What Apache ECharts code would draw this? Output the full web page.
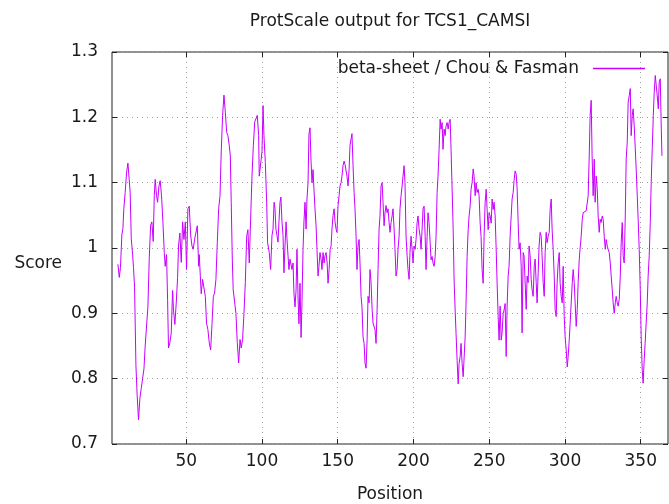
<!DOCTYPE html>
<html>
<head>
<meta charset="utf-8">
<title>ProtScale output for TCS1_CAMSI</title>
<script src="https://cdn.jsdelivr.net/npm/echarts@6/dist/echarts.min.js"></script>
<style>
  html, body { margin: 0; padding: 0; background: #fff; }
  #chart { width: 669px; height: 504px; }
</style>
</head>
<body>
<div id="chart"></div>
<script>
// positions / scores, in pieces from left to right
var posA = [4.9,5.8,6.6,7.5,8.2,8.8,9.7,10.6,11.5,12.4,13.0,13.7,14.6,15.2,15.9,16.8,17.6,18.5,19.4,20.3,21.2,22.1,22.9,23.8,24.7,25.6,26.5,27.3,28.2,28.9,29.5,30.4,31.1,32.0,32.8,33.7,34.6,35.5,36.1,37.0,37.7,38.3,39.2,40.1,41.0,41.6,42.5,43.4,44.3,44.9,45.8,46.7,47.6,48.5,49.4,50.2,51.1,52.0];
var scoreA = [0.975,0.955,0.97,1.02,1.03,1.06,1.085,1.115,1.13,1.133,1.085,1.015,0.99,0.97,0.94,0.82,0.775,0.737,0.77,0.785,0.80,0.815,0.85,0.85,0.91,0.985,1.035,1.04,1.01,1.08,1.105,1.08,1.07,1.095,1.103,1.08,1.04,0.993,0.972,0.99,0.92,0.847,0.855,0.87,0.935,0.905,0.883,0.916,0.955,1.003,1.023,0.978,1.04,1.013,1.04,0.967,1.06,1.064];

var posB = [52.9,53.8,54.6,55.5,56.4,57.3,58.2,58.6,59.3,59.9,60.8,61.7,62.6,63.4,64.3,65.2,66.1,67.0,67.9,68.7,69.6,70.5,71.4,72.3,73.1,74.0,74.9,75.8,76.7,77.5,78.4,79.1,79.7,80.4,81.0,81.9,82.8,83.7,84.6,85.5,86.3,87.2,88.1,89.0,89.9,90.7,91.6,92.5,93.4,94.3,95.2,96.0,96.9,97.8,98.2,99.1,100.0,100.7,101.3,102.2,103.1,103.7];
var scoreB = [1.02,1.003,0.998,1.013,1.01,1.034,0.972,0.99,0.957,0.93,0.952,0.952,0.926,0.885,0.875,0.855,0.844,0.883,0.926,0.931,0.952,1.008,1.06,1.08,1.147,1.203,1.234,1.208,1.177,1.172,1.157,1.141,1.07,0.983,0.936,0.936,0.90,0.855,0.824,0.86,0.847,0.86,0.90,0.947,1.018,1.028,0.977,1.044,1.11,1.157,1.193,1.195,1.203,1.172,1.11,1.11,1.147,1.218,1.172,1.131,1.07,1.008];

var posC = [104.8,105.7,106.6,107.3,108.0,108.6,109.2,109.9,110.6,111.2,111.9,112.5,113.2,113.9,114.5,115.2,115.9,116.5,117.2,117.8,118.5,119.2,119.8,120.5,121.1,121.8,122.5,123.1,123.8,124.4,125.1,125.8,126.4,127.1,127.7,128.4,129.1,129.7,130.4,131.0,131.7,132.4,133.0,133.7,134.3,135.0,135.7,136.3,137.0,137.6,138.3,139.0,139.6,140.3,141.0,141.6,142.3,143.0,143.6,144.3,145.0,145.6,146.2,146.9,147.6,148.2,148.9,149.5,150.2,150.9,151.5,152.2,152.8,153.5,154.2,154.8];
var scoreC = [0.993,0.967,1.019,1.029,1.07,1.06,1.029,1.019,1.009,1.04,1.07,1.078,1.04,1.019,0.962,1.003,1.04,1.014,0.988,0.967,0.983,0.983,0.967,0.977,0.931,0.91,0.936,0.998,0.925,0.884,0.946,0.863,0.916,0.998,1.04,1.07,1.029,1.075,1.10,1.174,1.184,1.132,1.10,1.12,1.09,1.06,1.034,0.998,0.957,0.972,0.993,0.983,0.967,0.993,0.977,0.988,0.993,0.977,0.946,0.967,0.998,1.003,1.029,1.05,1.06,1.04,1.029,1.024,1.065,1.08,1.095,1.10,1.11,1.126,1.133,1.128];

var posD = [155.5,156.1,156.8,157.5,158.1,158.8,159.4,160.1,160.8,161.4,162.1,162.7,163.4,164.1,164.7,165.4,166.0,166.7,167.4,168.0,168.7,169.4,170.0,170.7,171.3,172.0,172.7,173.3,174.0,174.6,175.3,176.0,176.6,177.3,177.9,178.6,179.3,179.9,180.6,181.2,181.9,182.6,183.2,183.9,184.5,185.2,185.9,186.5,187.2,187.8,188.5,189.2,189.8,190.5,191.1,191.8,192.5,193.1,193.8,194.4,195.1,195.8,196.4,197.1,197.7,198.4,199.1,199.7,200.4,201.1,201.7,202.4,203.0,203.7,204.4,205.0,205.7,206.3];
var scoreD = [1.13,1.11,1.095,1.12,1.157,1.167,1.175,1.126,1.085,1.06,1.018,0.967,1.003,1.013,0.977,0.926,0.91,0.864,0.854,0.824,0.816,0.86,0.926,0.916,0.967,0.947,0.906,0.885,0.885,0.875,0.854,0.906,0.967,1.029,1.049,1.095,1.10,1.07,1.034,1.054,1.065,1.054,1.06,1.039,1.024,1.039,1.049,1.06,1.029,0.998,0.957,0.967,0.998,1.018,1.06,1.08,1.095,1.11,1.126,1.10,1.018,0.988,0.967,0.952,0.993,1.018,0.998,0.977,1.003,0.998,1.013,1.039,1.049,1.029,1.018,0.998,1.029,1.06];

var posE = [207.0,207.7,208.3,209.0,209.6,210.3,211.0,211.6,212.3,212.9,213.6,214.3,214.9,215.6,216.2,216.9,217.6,218.2,218.9,219.5,220.2,220.9,221.5,222.2,222.9,223.5,224.2,224.8,225.5,226.2,226.8,227.5,228.1,228.8,229.5,230.1,230.8,231.4,232.1,232.8,233.4,234.1,234.7,235.4,236.1,236.7,237.4,238.0,238.7,239.4,240.0,240.7,241.3,242.0,242.7,243.3,244.0,244.6,245.3,246.0,246.6,247.3,248.0,248.6,249.3,249.9,250.6,251.3,251.9,252.6,253.2,253.9,254.6,255.2,255.9,256.5,257.2,257.9];
var scoreE = [1.064,1.018,0.967,1.018,1.054,1.038,1.008,0.982,0.987,0.977,0.972,0.987,1.018,1.085,1.11,1.151,1.197,1.182,1.192,1.151,1.182,1.172,1.187,1.192,1.182,1.192,1.197,1.151,1.09,1.028,0.951,0.905,0.869,0.828,0.792,0.823,0.834,0.854,0.823,0.803,0.803,0.864,0.916,0.987,1.028,1.049,1.064,1.09,1.10,1.121,1.11,1.08,1.10,1.085,1.09,1.08,1.038,1.018,0.967,0.946,1.018,1.07,1.09,1.059,1.028,1.054,1.049,1.038,1.075,1.059,1.07,1.049,0.997,0.946,0.895,0.859,0.911,0.859];

var posF = [258.5,259.2,259.8,260.5,261.2,261.8,262.5,263.1,263.8,264.5,265.1,265.8,266.4,267.1,267.8,268.4,269.1,269.7,270.4,271.1,271.7,272.4,273.0,273.7,274.4,275.0,275.7,276.3,277.0,277.7,278.3,279.0,279.7,280.3,281.0,281.6,282.3,282.9,283.6,284.3,284.9,285.6,286.3,286.9,287.6,288.2,288.9,289.6,290.2,290.9,291.5,292.2,292.9,293.5,294.2,294.8,295.5,296.2,296.8,297.5,298.2,298.8,299.5,300.1,300.8,301.5,302.1,302.8,303.4,304.1,304.8,305.4,306.1,306.7,307.4,308.1,308.7,309.4];
var scoreF = [0.87,0.90,0.905,0.915,0.834,0.911,0.957,0.972,1.018,1.049,1.075,1.085,1.103,1.118,1.113,1.092,1.039,0.998,1.008,0.972,0.87,0.993,0.988,0.988,0.906,0.957,0.947,1.003,0.988,0.952,0.936,0.926,0.972,0.983,0.947,0.916,0.962,1.003,1.024,1.018,0.988,0.947,0.926,0.993,1.024,1.008,1.018,1.024,1.059,1.075,1.029,0.998,0.957,0.906,0.895,0.947,0.977,0.993,0.947,0.926,0.916,0.972,0.895,0.864,0.844,0.818,0.834,0.859,0.885,0.916,0.947,0.967,0.947,0.916,0.88,0.906,0.947,0.982];

var posG = [310.0,310.7,311.4,312.0,312.7,313.3,314.0,314.7,315.3,316.0,316.6,317.3,317.9,318.6,319.3,319.9,320.6,321.3,321.9,322.6,323.2,323.9,324.6,325.2,325.9,326.6,327.2,327.9,328.5,329.2,329.9,330.5,331.2,331.8,332.5,333.2,333.8,334.5,335.1,335.8,336.5,337.1,337.8,338.4,339.1,339.8,340.4,341.1,341.7,342.4,343.1,343.7,344.4,345.0,345.7,346.4,347.0,347.7,348.3,349.0,349.7,350.3,351.0,351.6,352.3,352.9,353.6,354.3,354.9,355.6,356.3,356.9,357.6,358.3,358.9,359.6,360.2,360.9,361.6,362.2,362.9,363.5,364.0];
var scoreG = [1.0,1.018,1.044,1.054,1.057,1.057,1.057,1.059,1.08,1.141,1.203,1.226,1.141,1.08,1.136,1.07,1.11,1.09,1.049,1.024,1.044,1.039,1.049,1.044,1.018,0.998,1.013,1.003,0.998,0.993,0.977,0.957,0.936,0.916,0.90,0.916,0.926,0.916,0.911,0.921,0.957,1.008,1.039,0.988,0.977,1.049,1.136,1.162,1.223,1.233,1.244,1.172,1.203,1.213,1.187,1.152,1.121,1.08,1.044,0.998,0.936,0.864,0.813,0.793,0.829,0.854,0.885,0.916,0.957,0.988,1.039,1.10,1.152,1.203,1.238,1.264,1.267,1.233,1.213,1.254,1.259,1.19,1.141];

var xTicks = [50, 100, 150, 200, 250, 300, 350];
var seriesName = 'beta-sheet / Chou & Fasman';

var allPos = [posA, posB, posC, posD, posE, posF, posG];
var allScore = [scoreA, scoreB, scoreC, scoreD, scoreE, scoreF, scoreG];
var lineData = [];
for (var s = 0; s < allPos.length; s++) {
	var n = Math.min(allPos[s].length, allScore[s].length);
	for (var i = 0; i < n; i++) {
		lineData.push([allPos[s][i], allScore[s][i]]);
	}
}

var FONT = 'DejaVu Sans';
var FS = 17;
var TXT = '#1a1a1a';
var LINE = '#c800ff';

var myChart = echarts.init(document.getElementById('chart'), null, {renderer: 'canvas'});

var gridDots = {show: true, lineStyle: {color: '#a0a0a0', width: 1, type: [1, 4]}};

var option = {
	animation: false,
	backgroundColor: '#fff',
	textStyle: {fontFamily: FONT},
	title: {
		text: 'ProtScale output for TCS1_CAMSI',
		left: 390,
		top: 13,
		textAlign: 'center',
		padding: 0,
		textStyle: {color: TXT, fontFamily: FONT, fontSize: FS, fontWeight: 'normal'}
	},
	legend: {
		data: [seriesName],
		right: 24,
		top: 60,
		padding: 0,
		align: 'right',
		icon: 'rect',
		itemWidth: 52,
		itemHeight: 1.5,
		itemStyle: {color: LINE},
		textStyle: {color: TXT, fontFamily: FONT, fontSize: FS, padding: [0, 9, 0, 0]}
	},
	grid: {
		left: 112,
		right: 1,
		top: 52,
		bottom: 60,
		outerBoundsMode: 'none',
		containLabel: false,
		show: true,
		borderColor: '#222',
		borderWidth: 1,
		backgroundColor: 'transparent'
	},
	xAxis: [{
		type: 'value',
		min: 1,
		max: 368,
		name: 'Position',
		nameLocation: 'middle',
		nameGap: 42,
		nameTextStyle: {color: TXT, fontFamily: FONT, fontSize: FS},
		axisLine: {show: false},
		axisTick: {show: true, inside: true, length: 5, customValues: xTicks, lineStyle: {color: '#222'}},
		axisLabel: {show: true, margin: 9, customValues: xTicks, color: TXT, fontFamily: FONT, fontSize: FS},
		splitLine: gridDots
	}, {
		type: 'value',
		position: 'top',
		min: 1,
		max: 368,
		axisLine: {show: false},
		axisTick: {show: true, inside: true, length: 5, customValues: xTicks, lineStyle: {color: '#222'}},
		axisLabel: {show: false, customValues: xTicks},
		splitLine: {show: false}
	}],
	yAxis: [{
		type: 'value',
		min: 0.7,
		max: 1.3,
		interval: 0.1,
		name: 'Score',
		nameLocation: 'middle',
		nameRotate: 0,
		nameGap: 50,
		nameTextStyle: {color: TXT, fontFamily: FONT, fontSize: FS, verticalAlign: 'top', padding: [7, 0, 0, 0]},
		axisLine: {show: false},
		axisTick: {show: true, inside: true, length: 5, lineStyle: {color: '#222'}},
		axisLabel: {margin: 14, color: TXT, fontFamily: FONT, fontSize: FS},
		splitLine: gridDots
	}, {
		type: 'value',
		position: 'right',
		min: 0.7,
		max: 1.3,
		interval: 0.1,
		axisLine: {show: false},
		axisTick: {show: true, inside: true, length: 5, lineStyle: {color: '#222'}},
		axisLabel: {show: false},
		splitLine: {show: false}
	}],
	series: [{
		name: seriesName,
		type: 'line',
		xAxisIndex: 0,
		yAxisIndex: 0,
		symbol: 'none',
		showSymbol: false,
		lineStyle: {color: LINE, width: 1},
		itemStyle: {color: LINE},
		data: lineData
	}]
};
myChart.setOption(option);
</script>
</body>
</html>
